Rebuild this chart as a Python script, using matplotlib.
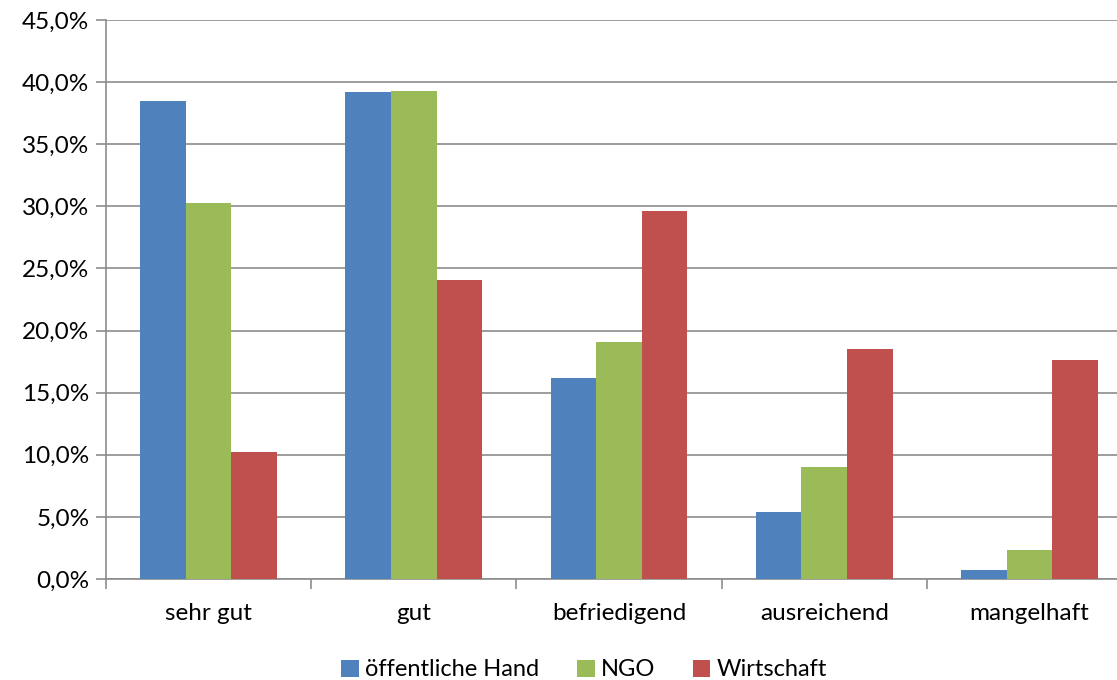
import numpy as np
import matplotlib
matplotlib.use("Agg")
import matplotlib.pyplot as plt
from matplotlib.ticker import FuncFormatter, MultipleLocator

# === DATA ===
categories = ["sehr gut", "gut", "befriedigend", "ausreichend", "mangelhaft"]
series_names = ["öffentliche Hand", "NGO", "Wirtschaft"]
oeffentlich = [38.5, 39.2, 16.2, 5.4, 0.7]
ngo = [30.3, 39.3, 19.1, 9.0, 2.3]
wirtschaft = [10.2, 24.1, 29.6, 18.5, 17.6]
colors = ["#4F81BD", "#9BBB59", "#C0504D"]

plt.rcParams["font.family"] = ["Lato", "DejaVu Sans"]
fig = plt.figure(figsize=(11.17, 6.8), dpi=100)
# plot area runs slightly past the right edge, like the cropped original
ax = fig.add_axes([106 / 1117, 1 - 579 / 680, (1132 - 106) / 1117, (579 - 20) / 680])

x = np.arange(len(categories))
w = 0.222
for i, (vals, name) in enumerate(zip([oeffentlich, ngo, wirtschaft], series_names)):
    ax.bar(x + (i - 1) * w, vals, width=w, color=colors[i], label=name, zorder=3)

ax.set_xlim(-0.5, len(categories) - 0.5)
ax.set_ylim(0, 45)
ax.yaxis.set_major_locator(MultipleLocator(5))
ax.yaxis.set_major_formatter(FuncFormatter(lambda v, p: f"{v:.1f}%".replace(".", ",")))
ax.grid(axis="y", color="#8c8c8c", linewidth=1.2, zorder=0)

ax.set_xticks(x)
ax.set_xticklabels(categories)
ax.set_xticks(np.arange(len(categories) + 1) - 0.5, minor=True)
ax.tick_params(axis="x", which="major", length=0, pad=17, labelsize=17.5)
ax.tick_params(axis="x", which="minor", length=7, color="#8c8c8c", width=1.2)
ax.tick_params(axis="y", length=7, color="#8c8c8c", width=1.2, labelsize=17.5, pad=5)

for side in ["top", "right"]:
    ax.spines[side].set_visible(False)
for side in ["left", "bottom"]:
    ax.spines[side].set_color("#8c8c8c")
    ax.spines[side].set_linewidth(1.2)

fig.legend(loc="center", bbox_to_anchor=(584 / 1117, 1 - 670 / 680), ncol=3, frameon=False,
           fontsize=17, handlelength=0.75, handleheight=0.75, handletextpad=0.25, columnspacing=1.6)

fig.savefig("out.png", dpi=100)
